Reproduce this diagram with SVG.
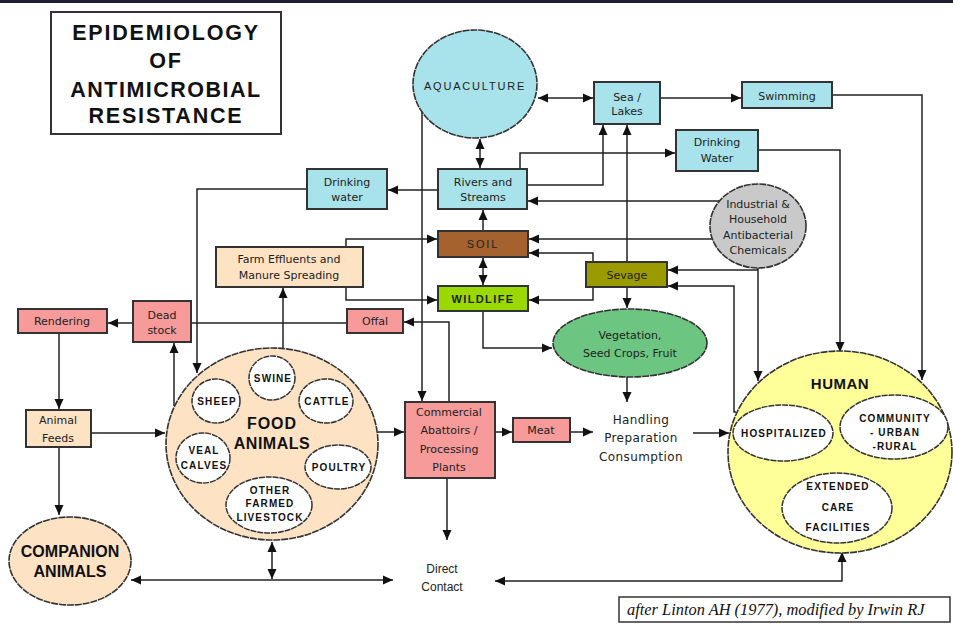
<svg xmlns="http://www.w3.org/2000/svg" width="953" height="626" viewBox="0 0 953 626">
<style>
.bx{stroke:#333;stroke-width:2}
.el{stroke:#333;stroke-width:1.6;stroke-dasharray:7 0.9}
.in{fill:#fff;stroke:#333;stroke-width:1.5;stroke-dasharray:6 0.9}
.cy{fill:#a8e2ea}.pe{fill:#fde2c4}.pk{fill:#f79a9a}
.t{font-family:"DejaVu Sans",sans-serif;font-size:11px;fill:#222;text-anchor:middle}
.b{font-family:"Liberation Sans",Arial,sans-serif;font-weight:bold;fill:#111;text-anchor:middle}
.s{font-family:"Liberation Sans",Arial,sans-serif;font-weight:bold;font-size:10px;letter-spacing:1.1px;fill:#111;text-anchor:middle}
.c path,.c line,.c polyline{fill:none;stroke:#222;stroke-width:1.5}
</style>
<defs>
<marker id="a" viewBox="0 0 10 10" refX="10" refY="5" markerWidth="10" markerHeight="10" markerUnits="userSpaceOnUse" orient="auto-start-reverse"><path d="M0,0.5 L10,5 L0,9.5 z" fill="#111"/></marker>
</defs>
<rect width="953" height="626" fill="#fff"/>
<rect width="953" height="3" fill="#1e1e33"/>

<g id="title">
<rect x="51" y="12" width="230" height="122" fill="#fff" stroke="#333" stroke-width="2"/>
<text class="b" style="font-size:21.5px;letter-spacing:1.8px" x="166" y="40">EPIDEMIOLOGY</text>
<text class="b" style="font-size:21.5px;letter-spacing:1.8px" x="166" y="68">OF</text>
<text class="b" style="font-size:21.5px;letter-spacing:1.5px" x="166" y="97">ANTIMICROBIAL</text>
<text class="b" style="font-size:21.5px;letter-spacing:1.8px" x="166" y="123">RESISTANCE</text>
</g>

<g id="connectors" class="c">
<line x1="538" y1="98" x2="593" y2="98" marker-start="url(#a)" marker-end="url(#a)"/>
<line x1="660" y1="98" x2="741" y2="98" marker-end="url(#a)"/>
<polyline points="832,95 922,95 922,380" marker-end="url(#a)"/>
<line x1="480" y1="139" x2="480" y2="168" marker-start="url(#a)" marker-end="url(#a)"/>
<polyline points="527,185 603,185 603,125" marker-end="url(#a)"/>
<polyline points="520,169 520,153 675,153" marker-end="url(#a)"/>
<polyline points="758,150 840,150 840,352" marker-end="url(#a)"/>
<line x1="719" y1="201" x2="528" y2="201" marker-end="url(#a)"/>
<line x1="712" y1="239" x2="529" y2="239" marker-end="url(#a)"/>
<line x1="758" y1="270" x2="668" y2="270" marker-end="url(#a)"/>
<line x1="758" y1="268" x2="758" y2="381" marker-end="url(#a)"/>
<polyline points="736,412 734,412 734,286 668,286" marker-end="url(#a)"/>
<line x1="627" y1="262" x2="627" y2="125" marker-end="url(#a)"/>
<polyline points="593,262 593,253 529,253" marker-end="url(#a)"/>
<polyline points="593,287 593,300 529,300" marker-end="url(#a)"/>
<line x1="627" y1="287" x2="627" y2="308" marker-end="url(#a)"/>
<line x1="483" y1="231" x2="483" y2="210" marker-end="url(#a)"/>
<line x1="483" y1="258" x2="483" y2="285" marker-start="url(#a)" marker-end="url(#a)"/>
<polyline points="483,311 483,348 552,348" marker-end="url(#a)"/>
<line x1="627" y1="377" x2="627" y2="402" marker-end="url(#a)"/>
<polyline points="346,247 346,239 437,239" marker-end="url(#a)"/>
<polyline points="346,287 346,300 437,300" marker-end="url(#a)"/>
<line x1="283" y1="349" x2="283" y2="288" marker-end="url(#a)"/>
<line x1="438" y1="190" x2="388" y2="190" marker-end="url(#a)"/>
<polyline points="307,189 197,189 197,373" marker-end="url(#a)"/>
<line x1="422" y1="110" x2="422" y2="401" marker-end="url(#a)"/>
<polyline points="449,402 449,322 404,322" marker-end="url(#a)"/>
<line x1="347" y1="323" x2="191" y2="323"/>
<line x1="133" y1="323" x2="108" y2="323" marker-end="url(#a)"/>
<line x1="59" y1="333" x2="59" y2="409" marker-end="url(#a)"/>
<line x1="174" y1="406" x2="174" y2="343" marker-end="url(#a)"/>
<line x1="91" y1="433" x2="165" y2="433" marker-end="url(#a)"/>
<line x1="59" y1="447" x2="59" y2="515" marker-end="url(#a)"/>
<line x1="378" y1="432" x2="404" y2="432" marker-end="url(#a)"/>
<line x1="495" y1="432" x2="512" y2="432" marker-end="url(#a)"/>
<line x1="570" y1="432" x2="593" y2="432" marker-end="url(#a)"/>
<line x1="693" y1="433" x2="729" y2="433" marker-end="url(#a)"/>
<line x1="447" y1="478" x2="447" y2="540" marker-end="url(#a)"/>
<line x1="131" y1="580" x2="393" y2="580" marker-start="url(#a)" marker-end="url(#a)"/>
<line x1="272" y1="542" x2="272" y2="579" marker-start="url(#a)" marker-end="url(#a)"/>
<polyline points="842,552 842,581 495,581" marker-start="url(#a)" marker-end="url(#a)"/>
</g>

<g id="aquaculture"><ellipse class="el cy" cx="475" cy="84" rx="62" ry="54"/><text class="t" x="475" y="90" style="font-family:'Liberation Sans',Arial,sans-serif;letter-spacing:1.8px">AQUACULTURE</text></g>
<g id="sea-lakes"><rect class="bx cy" x="594" y="82" width="66" height="42"/><text class="t" x="627" y="101">Sea /</text><text class="t" x="627" y="115">Lakes</text></g>
<g id="swimming"><rect class="bx cy" x="742" y="82" width="90" height="26"/><text class="t" x="787" y="100">Swimming</text></g>
<g id="drinking-water-r"><rect class="bx cy" x="676" y="130" width="82" height="41"/><text class="t" x="717" y="146">Drinking</text><text class="t" x="717" y="162">Water</text></g>
<g id="rivers"><rect class="bx cy" x="438" y="169" width="89" height="40"/><text class="t" x="483" y="186">Rivers and</text><text class="t" x="483" y="201">Streams</text></g>
<g id="drinking-water-l"><rect class="bx cy" x="307" y="169" width="80" height="40"/><text class="t" x="347" y="186">Drinking</text><text class="t" x="347" y="201">water</text></g>
<g id="industrial"><ellipse class="el" fill="#c9c9c9" cx="758" cy="226" rx="48" ry="42"/><text class="t" x="758" y="208">Industrial &amp;</text><text class="t" x="758" y="223">Household</text><text class="t" x="758" y="239">Antibacterial</text><text class="t" x="758" y="254">Chemicals</text></g>
<g id="soil"><rect class="bx" fill="#a5622e" x="438" y="231" width="90" height="26"/><text class="t" x="483" y="248" style="font-family:'Liberation Sans',Arial,sans-serif;letter-spacing:1.8px">SOIL</text></g>
<g id="wildlife"><rect class="bx" fill="#9ad900" x="438" y="286" width="90" height="25"/><text class="t" x="483" y="303" style="font-family:'Liberation Sans',Arial,sans-serif;font-weight:bold;letter-spacing:1.4px">WILDLIFE</text></g>
<g id="sewage"><rect class="bx" fill="#9b9b00" x="586" y="262" width="81" height="25"/><text class="t" x="627" y="279">Sevage</text></g>
<g id="vegetation"><ellipse class="el" fill="#6cc580" cx="630" cy="343" rx="77" ry="34"/><text class="t" x="630" y="339">Vegetation,</text><text class="t" x="630" y="357">Seed Crops, Fruit</text></g>
<g id="farm-effluents"><rect class="bx pe" x="216" y="247" width="147" height="40"/><text class="t" x="289" y="263">Farm Effluents and</text><text class="t" x="289" y="279">Manure Spreading</text></g>
<g id="offal"><rect class="bx pk" x="347" y="309" width="56" height="24"/><text class="t" x="375" y="325">Offal</text></g>
<g id="dead-stock"><rect class="bx pk" x="133" y="301" width="58" height="41"/><text class="t" x="162" y="319">Dead</text><text class="t" x="162" y="334">stock</text></g>
<g id="rendering"><rect class="bx pk" x="18" y="309" width="89" height="24"/><text class="t" x="62" y="325">Rendering</text></g>
<g id="animal-feeds"><rect class="bx pe" x="26" y="410" width="65" height="37"/><text class="t" x="58" y="424">Animal</text><text class="t" x="58" y="442">Feeds</text></g>
<g id="food-animals">
<ellipse class="el pe" cx="272" cy="444" rx="106" ry="96"/>
<ellipse class="in" cx="272" cy="378" rx="23" ry="22"/><text class="s" x="273" y="382">SWINE</text>
<ellipse class="in" cx="216" cy="401" rx="24" ry="22"/><text class="s" x="217" y="405">SHEEP</text>
<ellipse class="in" cx="326" cy="401" rx="27" ry="22"/><text class="s" x="327" y="405">CATTLE</text>
<ellipse class="in" cx="203" cy="458" rx="27" ry="25"/><text class="s" x="204" y="454">VEAL</text><text class="s" x="204" y="469">CALVES</text>
<ellipse class="in" cx="338" cy="467" rx="33" ry="22"/><text class="s" x="339" y="471">POULTRY</text>
<ellipse class="in" cx="269" cy="505" rx="43" ry="28"/><text class="s" x="270" y="494">OTHER</text><text class="s" x="270" y="507">FARMED</text><text class="s" x="270" y="521">LIVESTOCK</text>
<text class="b" style="font-size:16px;letter-spacing:1px" x="272" y="429">FOOD</text>
<text class="b" style="font-size:16px;letter-spacing:0.5px" x="272" y="449">ANIMALS</text>
</g>
<g id="companion-animals"><ellipse class="el pe" cx="70" cy="561" rx="61" ry="44"/><text class="b" style="font-size:16px" x="70" y="557">COMPANION</text><text class="b" style="font-size:16px" x="70" y="577">ANIMALS</text></g>
<g id="abattoirs"><rect class="bx pk" x="405" y="402" width="90" height="76"/><text class="t" x="449" y="416">Commercial</text><text class="t" x="449" y="434">Abattoirs /</text><text class="t" x="449" y="453">Processing</text><text class="t" x="449" y="471">Plants</text></g>
<g id="meat"><rect class="bx pk" x="513" y="418" width="57" height="24"/><text class="t" x="541" y="434">Meat</text></g>
<g id="handling"><text class="t" style="font-size:12px;letter-spacing:0.4px" x="641" y="424">Handling</text><text class="t" style="font-size:12px;letter-spacing:0.4px" x="641" y="442">Preparation</text><text class="t" style="font-size:12px;letter-spacing:0.4px" x="641" y="461">Consumption</text></g>
<g id="direct-contact"><text class="t" style="font-family:'Liberation Sans',Arial,sans-serif;font-size:12px" x="442" y="573">Direct</text><text class="t" style="font-family:'Liberation Sans',Arial,sans-serif;font-size:12px" x="442" y="591">Contact</text></g>
<g id="human">
<ellipse class="el" fill="#ffff99" cx="840" cy="452" rx="112" ry="101"/>
<text class="b" style="font-size:15px;letter-spacing:0.5px" x="840" y="389">HUMAN</text>
<ellipse class="in" cx="783" cy="433" rx="50" ry="28"/><text class="s" x="784" y="437">HOSPITALIZED</text>
<ellipse class="in" cx="894" cy="427" rx="54" ry="32"/><text class="s" x="895" y="422">COMMUNITY</text><text class="s" x="895" y="436">- URBAN</text><text class="s" x="895" y="450">-RURAL</text>
<ellipse class="in" cx="837" cy="508" rx="55" ry="35"/><text class="s" x="838" y="490">EXTENDED</text><text class="s" x="838" y="511">CARE</text><text class="s" x="838" y="531">FACILITIES</text>
</g>
<g id="citation"><rect x="619" y="597" width="331" height="25" fill="#fff" stroke="#333" stroke-width="1.5"/><text x="627" y="615" style="font-family:'Liberation Serif',serif;font-style:italic;font-size:16.4px;fill:#111">after Linton AH (1977), modified by Irwin RJ</text></g>
</svg>
